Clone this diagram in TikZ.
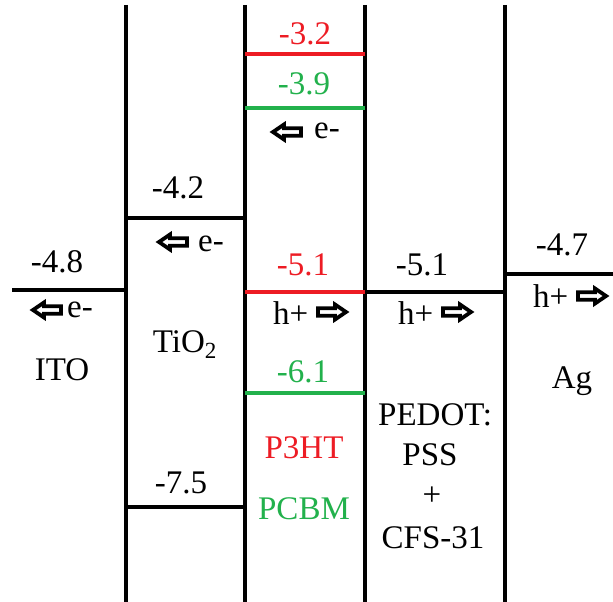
\documentclass[tikz,border=0pt]{standalone}
\usepackage{fontspec}
\newfontfamily\tnr{Liberation Serif}
\definecolor{pred}{RGB}{237,28,36}
\definecolor{pgreen}{RGB}{34,177,76}
\begin{document}
\begin{tikzpicture}[x=1pt,y=-1pt,
  lvl/.style={line width=4pt},
  wall/.style={line width=4.5pt},
  lbl/.style={font=\tnr\fontsize{33}{38}\selectfont, inner sep=0pt, anchor=base},
  lbll/.style={lbl, anchor=base west},
  larr/.pic={\draw[line width=3.8pt, fill=white, line join=miter]
     (-14,0) -- (-3,-7.5) -- (-3,-3.8) -- (14,-3.8) -- (14,3.8) -- (-3,3.8) -- (-3,7.5) -- cycle;},
  rarr/.pic={\draw[line width=3.8pt, fill=white, line join=miter]
     (14,0) -- (3,-7.5) -- (3,-3.8) -- (-14,-3.8) -- (-14,3.8) -- (3,3.8) -- (3,7.5) -- cycle;}
]
\useasboundingbox (0,0) rectangle (613,602);
% walls
\coordinate (w1t) at (126,5); \coordinate (w1b) at (126,602);
\coordinate (w2t) at (245,5); \coordinate (w2b) at (245,602);
\coordinate (w3t) at (365,5); \coordinate (w3b) at (365,602);
\coordinate (w4t) at (505,5); \coordinate (w4b) at (505,602);
\draw[wall] (w1t) -- (w1b);
\draw[wall] (w2t) -- (w2b);
\draw[wall] (w3t) -- (w3b);
\draw[wall] (w4t) -- (w4b);
% levels
\coordinate (itoL) at (12,290); \coordinate (itoR) at (126,290);
\draw[lvl] (itoL) -- (itoR);
\coordinate (t1L) at (126,218); \coordinate (t1R) at (245,218);
\draw[lvl] (t1L) -- (t1R);
\coordinate (t2L) at (126,507); \coordinate (t2R) at (245,507);
\draw[lvl] (t2L) -- (t2R);
\coordinate (p1L) at (245,54); \coordinate (p1R) at (365,54);
\draw[lvl, pred] (p1L) -- (p1R);
\coordinate (p2L) at (245,108); \coordinate (p2R) at (365,108);
\draw[lvl, pgreen] (p2L) -- (p2R);
\coordinate (p3L) at (245,292); \coordinate (p3R) at (365,292);
\draw[lvl, pred] (p3L) -- (p3R);
\coordinate (p4L) at (245,393); \coordinate (p4R) at (365,393);
\draw[lvl, pgreen] (p4L) -- (p4R);
\coordinate (edL) at (365,292); \coordinate (edR) at (505,292);
\draw[lvl] (edL) -- (edR);
\coordinate (agL) at (505,274); \coordinate (agR) at (613,274);
\draw[lvl] (agL) -- (agR);
% ITO
\node[lbl] (ito48) at (57,272) {-4.8};
\pic at (47,310) {larr};
\node[lbll] (itoe) at (67,317) {e-};
\node[lbl] (ito) at (62,380) {ITO};
% TiO2
\node[lbl] (ti42) at (178,198) {-4.2};
\pic at (173,242) {larr};
\node[lbll] (tie) at (198,251) {e-};
\node[lbl] (tio2) at (185,352) {TiO\textsubscript{2}};
\node[lbl] (ti75) at (181,493) {-7.5};
% P3HT:PCBM
\node[lbl, text=pred] (p32) at (305,45) {-3.2};
\node[lbl, text=pgreen] (p39) at (304,95) {-3.9};
\pic at (287,132) {larr};
\node[lbll] (pe) at (314,138) {e-};
\node[lbl, text=pred] (p51) at (303,275) {-5.1};
\node[lbll] (ph) at (273,324) {h+};
\pic at (332,312) {rarr};
\node[lbl, text=pgreen] (p61) at (303,382) {-6.1};
\node[lbl, text=pred] (p3ht) at (304,458) {P3HT};
\node[lbl, text=pgreen] (pcbm) at (304,519) {PCBM};
% PEDOT
\node[lbl] (e51) at (422,275) {-5.1};
\node[lbll] (eh) at (398,324) {h+};
\pic at (457,312) {rarr};
\node[lbll] (ed1) at (378,425) {PEDOT:};
\node[lbl] (ed2) at (430,465) {PSS};
\node[lbl] (ed3) at (432,505) {+};
\node[lbl] (ed4) at (433,548) {CFS-31};
% Ag
\node[lbl] (ag47) at (562,255) {-4.7};
\node[lbll] (agh) at (533,307) {h+};
\pic at (592,296) {rarr};
\node[lbl] (ag) at (572,388) {Ag};
\end{tikzpicture}
\end{document}
